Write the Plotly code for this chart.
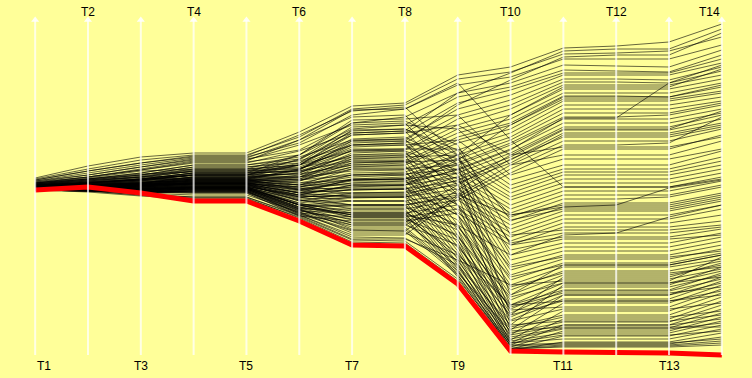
import plotly.graph_objects as go

dims = ["T1", "T2", "T3", "T4", "T5", "T6", "T7", "T8", "T9", "T10", "T11", "T12", "T13", "T14"]

T1 = [177,176,175,174,173,172,171,172,170,170,
      169,171,168,169,170,168,167,168,166,167,
      169,166,167,165,168,166,167,165,166,167,
      168,170,169,167,168,166,167,168,166,167,
      165,166,167,165,166,165,166,165,166,165,
      175,174,173,172,171,170,171,170,169,170,
      169,168,169,168,167,168,167,166,167,166,166,165,
      172,171,170,169,168,167,168,166,167,166,165,166,165,166,165,165,
      165,166,165,166,165,172,167,166,165,
      167,168,166,167,166,165,166,165,166,165,166,165,166,165,166,165,166,167,168,169]
T2 = [189,186,184,180,178,176,175,177,174,173,
      172,176,171,170,174,170,169,172,168,170,
      173,167,168,166,169,166,167,164,165,166,
      170,172,171,169,170,168,168,170,167,168,
      166,167,167,165,166,166,165,164,165,165,
      184,182,180,178,176,175,174,173,172,172,
      171,170,170,169,169,168,168,167,167,166,166,165,
      176,175,173,172,171,170,169,168,168,167,166,166,165,166,165,164,
      163,164,166,167,164,178,168,166,165,
      169,171,168,169,167,166,166,166,165,165,166,164,165,165,165,164,166,168,170,172]
T3 = [198,195,192,188,185,182,180,184,179,178,
      176,181,175,174,178,172,171,176,170,173,
      175,169,170,168,171,165,166,162,163,164,
      172,176,174,171,172,170,169,171,168,170,
      167,168,169,166,167,165,164,163,164,163,
      192,190,188,185,182,180,178,177,176,175,
      174,172,172,171,170,169,168,167,166,165,166,164,
      180,178,176,175,173,172,171,170,169,168,167,166,165,165,164,163,
      159,160,161,162,160,186,170,167,166,
      172,175,170,171,169,168,167,166,165,164,165,163,164,163,164,162,166,169,173,176]
T4 = [202,200,198,196,193,190,188,186,185,184,
      182,183,181,180,179,178,176,177,175,174,
      176,173,172,171,170,168,166,164,162,163,
      178,182,180,175,177,174,172,173,171,172,
      170,169,171,168,167,166,165,164,163,162,
      199,197,195,192,190,188,186,184,182,180,
      178,176,175,174,173,172,171,170,169,168,167,166,
      186,184,182,180,178,176,175,174,172,171,169,168,167,166,165,164,
      156,157,158,160,158,194,172,168,167,
      176,180,173,174,172,170,169,168,167,166,167,165,166,164,165,163,168,171,177,180]
T5 = [202,200,198,196,193,190,188,186,185,184,
      182,183,181,180,179,178,176,177,175,174,
      176,173,172,171,170,168,166,164,162,163,
      178,182,180,175,177,174,172,173,171,172,
      170,169,171,168,167,166,165,164,163,162,
      199,197,195,192,190,188,186,184,182,180,
      178,176,175,174,173,172,171,170,169,168,167,166,
      186,184,182,180,178,176,175,174,172,171,169,168,167,166,165,164,
      156,157,158,160,158,194,172,168,167,
      176,180,173,174,172,170,169,168,167,166,167,165,166,164,165,163,168,171,177,180]
T6 = [223,218,212,205,200,196,192,190,188,186,
      184,183,180,178,176,175,172,170,168,166,
      165,162,160,158,156,150,146,142,140,145,
      190,200,196,185,182,178,174,170,168,164,
      160,157,154,152,150,148,146,144,142,139,
      220,215,210,204,198,194,190,187,184,181,
      178,175,172,170,167,165,162,160,158,155,152,150,
      200,195,190,186,182,178,174,170,166,162,158,154,150,147,144,141,
      138,137,140,143,139,215,165,150,148,
      186,192,176,180,168,163,159,155,151,148,150,145,147,143,146,141,160,162,185,190]
T7 = [249,246,240,232,226,220,214,210,206,204,
      200,196,192,190,188,186,182,178,175,172,
      168,165,162,160,157,140,132,125,120,130,
      220,235,228,210,205,198,192,186,180,175,
      170,166,162,158,154,150,146,142,138,134,
      244,238,230,222,215,210,204,198,194,190,
      184,180,175,170,166,162,158,154,150,146,142,138,
      232,224,216,208,200,194,188,180,174,168,160,154,148,142,136,130,
      115,113,118,122,116,245,172,150,140,
      212,225,196,202,176,165,158,150,144,138,140,132,135,128,126,124,170,176,214,222]
T8 = [252,250,246,238,230,222,216,212,206,205,
      200,198,194,192,190,186,183,180,176,174,
      170,166,163,160,158,140,132,124,120,130,
      222,236,230,210,206,198,193,186,181,176,
      170,166,162,158,154,150,146,142,138,134,
      248,240,232,224,216,212,204,200,194,190,
      185,180,176,170,166,162,158,154,150,146,142,138,
      234,226,218,210,202,194,188,182,174,168,160,154,148,142,136,130,
      114,112,117,122,116,246,172,150,140,
      214,226,196,204,178,166,158,150,144,138,140,132,135,128,126,124,170,176,214,224]
T9 = [280,276,270,262,258,252,246,240,236,230,
      226,222,218,215,212,205,200,196,192,190,
      186,182,178,175,172,170,165,160,158,155,
      230,240,226,215,206,200,195,190,186,182,
      178,174,170,166,162,158,155,150,146,142,
      200,190,180,170,160,150,140,130,125,120,
      116,112,108,104,100,96,92,90,86,84,80,78,
      210,200,190,180,170,165,160,150,145,140,135,130,125,120,115,110,
      76,74,90,100,95,272,185,160,130,
      196,205,176,185,150,140,128,118,108,102,98,94,88,84,82,80,195,200,250,262]
T10 = [288,283,278,272,268,265,260,255,250,246,
       240,236,232,230,226,222,218,215,212,210,
       206,202,198,195,192,200,196,190,186,182,
       200,190,180,175,170,166,162,158,155,150,
       146,142,138,134,130,126,122,118,114,110,
       60,40,30,50,25,35,20,45,15,28,
       12,22,10,18,8,14,6,12,5,9,7,6,
       120,110,100,95,90,85,80,75,70,65,60,55,50,46,42,38,
       10,6,30,50,70,215,205,140,100,
       140,135,105,112,88,78,68,58,48,40,34,26,20,16,24,12,230,240,275,282]
T11 = [307,301,296,290,285,282,280,276,273,270,
       266,262,259,256,254,250,246,242,238,236,
       232,228,225,222,220,226,218,214,210,206,
       208,200,196,190,186,183,180,176,172,168,
       164,160,156,152,148,144,140,136,132,128,
       90,78,70,65,60,56,52,48,44,40,
       36,33,30,27,24,22,19,16,13,11,10,9,
       125,118,112,108,104,100,96,92,88,84,80,76,72,68,64,60,
       12,8,34,54,74,168,237,148,120,
       150,146,116,122,98,90,82,72,62,54,46,38,30,26,28,20,258,268,298,304]
T12 = [309,302,296,289,284,282,280,276,273,270,
       266,262,259,256,254,250,246,242,238,236,
       232,228,225,222,220,226,218,214,210,206,
       208,200,196,190,186,183,180,176,172,168,
       164,160,156,152,148,144,140,136,132,128,
       90,78,70,65,60,56,52,48,44,40,
       36,33,30,27,24,22,19,16,13,11,10,9,
       125,118,112,108,104,100,96,92,88,84,80,76,72,68,64,60,
       12,8,34,54,74,168,237,150,122,
       150,146,116,122,98,90,82,72,62,54,46,38,30,26,28,20,258,268,300,306]
T13 = [313,304,296,288,283,282,280,275,272,270,
       266,262,258,256,254,250,246,242,240,236,
       232,228,225,222,220,226,218,214,212,206,
       208,200,196,190,186,183,180,176,172,168,
       164,160,158,152,148,144,140,136,132,128,
       90,78,70,65,60,56,52,48,44,40,
       36,33,30,27,24,22,19,16,13,11,10,9,
       125,118,112,108,104,100,96,92,88,84,80,76,72,68,64,60,
       12,8,34,54,74,168,272,167,138,
       150,146,116,122,98,90,82,72,62,54,46,38,30,26,28,20,258,268,300,306]
T14 = [331,318,310,305,300,296,292,288,284,280,
       276,272,268,264,262,258,254,252,250,246,
       242,240,236,232,230,244,228,226,238,220,
       218,214,206,204,198,194,190,186,182,178,
       174,170,168,162,158,154,150,146,140,134,
       100,92,88,82,78,74,70,66,62,58,
       54,50,46,42,38,34,30,26,22,18,14,12,
       130,126,122,118,114,110,106,102,96,94,90,86,84,80,76,72,
       16,10,40,64,98,176,290,175,150,
       160,156,120,128,104,100,88,78,68,60,52,44,36,32,28,24,270,286,322,326]

# highlighted (lowest) series
highlight = [165, 168, 162, 154, 154, 134, 110, 109, 71, 4, 3, 3, 2, 0]

columns = [T1, T2, T3, T4, T5, T6, T7, T8, T9, T10, T11, T12, T13, T14]
axis_min, axis_max = 0, 335

BG = "#FFFF99"
fig = go.Figure()

n = len(T1)
for col in columns:
    assert len(col) == n

for i in range(n):
    fig.add_trace(go.Scatter(
        x=dims, y=[c[i] for c in columns], mode="lines",
        line=dict(color="rgba(0,0,0,0.6)", width=1),
        hoverinfo="skip", showlegend=False))

fig.add_trace(go.Scatter(
    x=dims, y=highlight, mode="lines",
    line=dict(color="#FF0000", width=5),
    hoverinfo="skip", showlegend=False))

# white axes with arrow heads
for d in dims:
    fig.add_trace(go.Scatter(
        x=[d, d], y=[axis_min, axis_max], mode="lines",
        line=dict(color="rgba(255,255,255,0.75)", width=2),
        hoverinfo="skip", showlegend=False))
fig.add_trace(go.Scatter(
    x=dims, y=[axis_max] * len(dims), mode="markers",
    marker=dict(symbol="triangle-up", size=7, color="rgba(255,255,255,0.9)"),
    cliponaxis=False, hoverinfo="skip", showlegend=False))

annotations = []
last = len(dims) - 1
for i, d in enumerate(dims):
    top = (i % 2 == 1)
    xanchor = "center"
    if i == 0:
        xanchor = "left"
    elif i == last:
        xanchor = "right"
    annotations.append(dict(
        x=i, xref="x", y=1.0014 if top else -0.0085, yref="paper",
        text=d, showarrow=False, xanchor=xanchor, yanchor="middle",
        font=dict(family="Liberation Sans, Arial, sans-serif", size=12, color="#000000")))

fig.update_layout(
    width=752, height=378,
    margin=dict(l=32, r=27, t=12, b=15, pad=0),
    paper_bgcolor=BG, plot_bgcolor=BG,
    showlegend=False,
    xaxis=dict(type="category", range=[-0.06, 13.06], showgrid=False, zeroline=False,
               showticklabels=False, showline=False, ticks="", fixedrange=True),
    yaxis=dict(range=[-8, 343], showgrid=False, zeroline=False,
               showticklabels=False, showline=False, ticks="", fixedrange=True),
    annotations=annotations,
)

fig.write_html("out.html", config={"displayModeBar": False},
               post_script="document.body.style.margin='0';document.body.style.overflow='hidden';")
